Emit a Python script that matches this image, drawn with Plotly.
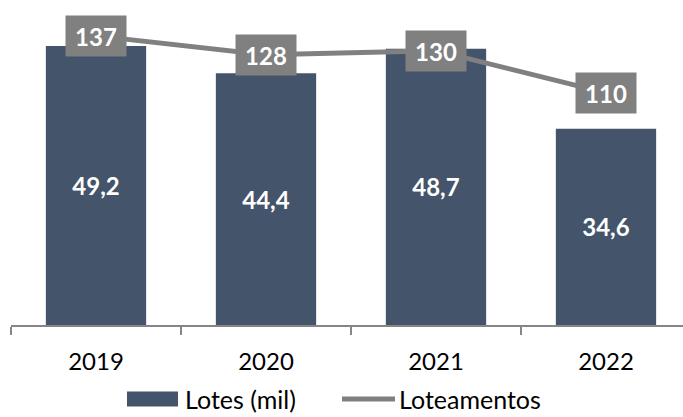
import plotly.graph_objects as go

years = ["2019", "2020", "2021", "2022"]
lotes = [49.2, 44.4, 48.7, 34.6]
loteamentos = [137, 128, 130, 110]
series_names = ["Lotes (mil)", "Loteamentos"]

BAR_COLOR = "#44546A"
LINE_COLOR = "#808080"
FONT = "Lato"
W, H = 683, 417
ML, MR, MT, MB = 11, 0, 0, 92
PW, PH = W - ML - MR, H - MT - MB


def px_x(p):
    return (p - ML) / PW


def px_y(p):
    return (H - MB - p) / PH


fig = go.Figure()
fig.add_trace(go.Bar(
    x=years, y=lotes, name=series_names[0],
    marker=dict(color=BAR_COLOR, line=dict(width=0)),
    texttemplate="<b>%{y:.1f}</b>", textposition="inside", insidetextanchor="middle",
    textfont=dict(family=FONT, size=24, color="white"),
    yaxis="y", showlegend=False,
))
fig.add_trace(go.Scatter(
    x=years, y=loteamentos, name=series_names[1], mode="lines",
    line=dict(color=LINE_COLOR, width=5),
    yaxis="y2", showlegend=False,
))

annotations = []
for i, v in enumerate(loteamentos):
    annotations.append(dict(
        x=i, y=v, xref="x", yref="y2", text="<b>%d</b>" % v, showarrow=False,
        bgcolor=LINE_COLOR, font=dict(family=FONT, size=24, color="white"),
        width=46, height=26, borderpad=7, xanchor="center", yanchor="middle",
    ))

# legend (drawn as decoration)
legend_y = 399
annotations.append(dict(
    x=px_x(184), y=px_y(legend_y), xref="paper", yref="paper", text=series_names[0],
    showarrow=False, xanchor="left", yanchor="middle",
    font=dict(family=FONT, size=25, color="black"), borderpad=0,
))
annotations.append(dict(
    x=px_x(398), y=px_y(legend_y), xref="paper", yref="paper", text=series_names[1],
    showarrow=False, xanchor="left", yanchor="middle",
    font=dict(family=FONT, size=25, color="black"), borderpad=0,
))
shapes = [
    dict(type="rect", xref="paper", yref="paper",
         x0=px_x(127), x1=px_x(178), y0=px_y(legend_y - 7.5), y1=px_y(legend_y + 7.5),
         fillcolor=BAR_COLOR, line=dict(width=0)),
    dict(type="line", xref="paper", yref="paper",
         x0=px_x(342), x1=px_x(395), y0=px_y(legend_y), y1=px_y(legend_y),
         line=dict(color=LINE_COLOR, width=5)),
]

fig.update_layout(
    width=W, height=H,
    margin=dict(l=ML, r=MR, t=MT, b=MB, autoexpand=False),
    plot_bgcolor="white", paper_bgcolor="white",
    separators=",.",
    bargap=0.41,
    font=dict(family=FONT, size=24, color="black"),
    annotations=annotations,
    shapes=shapes,
    xaxis=dict(
        type="category", range=[-0.5, 3.453],
        showline=True, linecolor="#868686", linewidth=1.5,
        ticks="outside", tickson="boundaries", ticklen=8, tickcolor="#868686", tickwidth=1.5,
        ticklabelstandoff=14,
        tickfont=dict(family=FONT, size=24, color="black"),
        showgrid=False, automargin=False,
    ),
    yaxis=dict(range=[0, 57.3], visible=False, showgrid=False),
    yaxis2=dict(range=[0, 154], overlaying="y", side="right", showgrid=False,
                showticklabels=False, showline=False, zeroline=False, ticks=""),
    showlegend=False,
)

fig.write_html("out.html", config={"displayModeBar": False},
               post_script="document.body.style.margin='0';")
